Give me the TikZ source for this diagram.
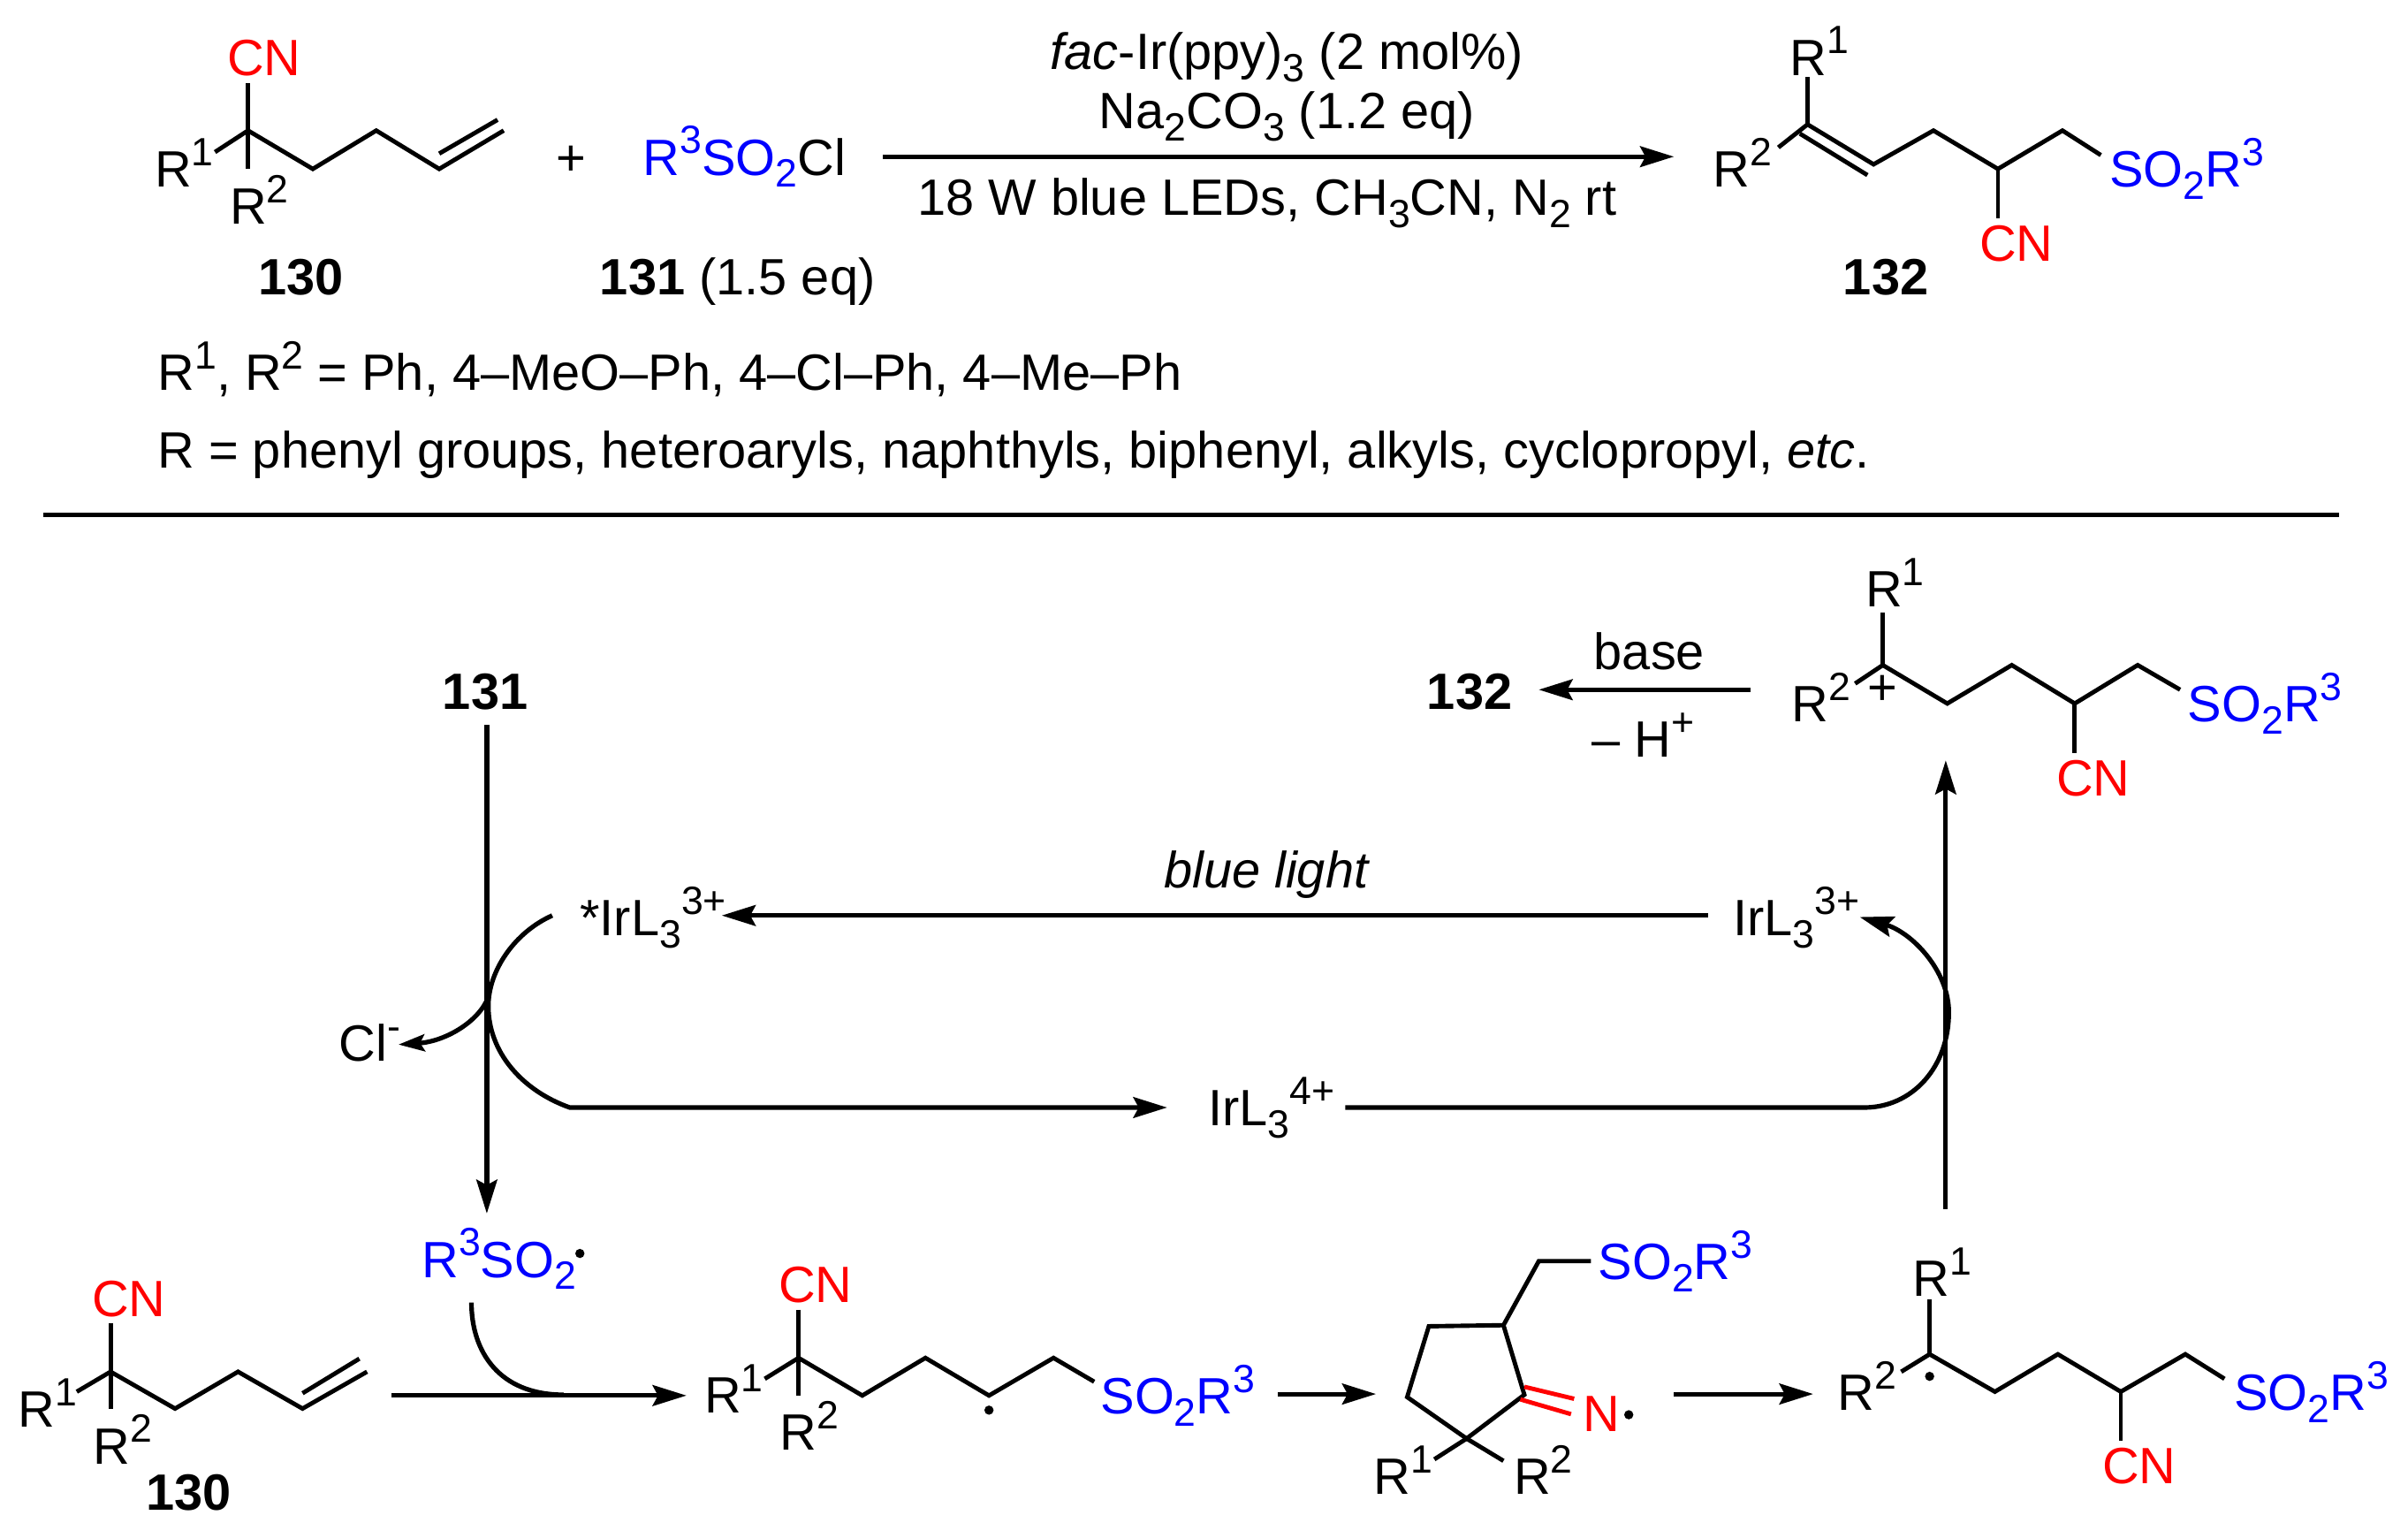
\documentclass[tikz,border=0pt]{standalone}
\usepackage{fontspec}
\setmainfont{Liberation Sans}
\usepackage{tikz}
\usetikzlibrary{arrows.meta}
\definecolor{cnred}{RGB}{255, 0, 0}
\definecolor{sulfblue}{RGB}{0, 0, 255}
\newcommand{\chemup}[1]{\raisebox{.42em}{\fontsize{7.3}{8}\selectfont #1}}
\newcommand{\chemdn}[1]{\raisebox{-.24em}{\fontsize{7.3}{8}\selectfont #1}}

\begin{document}
\begin{tikzpicture}[
    x=0.01cm, y=-0.01cm,
    label/.style={font=\fontsize{9.45}{11}\selectfont, inner sep=0pt, anchor=base west},
    mid/.style={label, anchor=base},
    cn/.style={mid, text=cnred},
    sulf/.style={label, text=sulfblue},
    bond/.style={line width=0.8pt, line join=miter},
    redbond/.style={bond, draw=cnred},
    arrow/.style={-{Stealth[length=0.22cm, width=0.135cm, inset=0.035cm]}, line width=0.85pt},
    smallarrow/.style={-{Stealth[length=0.17cm, width=0.11cm, inset=0.03cm]}, line width=0.85pt},
    curve/.style={line width=0.85pt},
    raddot/.style={circle, fill=black, inner sep=0pt, minimum size=0.06cm}
]
\useasboundingbox (0,0) rectangle (1568,1001);

% substrate and sulfonyl chloride
\coordinate (a0) at (161.5,85); \coordinate (a1) at (203.7,110); \coordinate (a2) at (245,85);
\coordinate (a3) at (286,110); \coordinate (a4) at (328,85); \coordinate (a5) at (286,100);
\coordinate (a6) at (324,78); \coordinate (a7) at (161.5,54); \coordinate (a8) at (161.5,110);
\coordinate (a9) at (140,99);
\node[cn] (acn) at (172,49) {CN};
\node[label] (ar1) at (100,122) {R\chemup{1}};
\node[label] (ar2) at (149,146) {R\chemup{2}};
\draw[bond] (a9) -- (a0) -- (a1) -- (a2) -- (a3) -- (a4);
\draw[bond] (a5) -- (a6);
\draw[bond] (a7) -- (a8);
\node[mid] (plus) at (372,114) {+};
\node[sulf] (chloride) at (418,114) {R\chemup{3}SO\chemdn{2}\textcolor{black}{Cl}};
\node[mid] (n130) at (196,192) {\textbf{130}};
\node[label] (n131) at (390,192) {\textbf{131} (1.5 eq)};

% conditions
\coordinate (rxnin) at (575,102); \coordinate (rxnout) at (1090,102);
\draw[arrow] (rxnin) -- (rxnout);
\node[mid] (cond1) at (838,45) {\textit{fac}-Ir(ppy)\chemdn{3} (2 mol\%)};
\node[mid] (cond2) at (838,84) {Na\chemdn{2}CO\chemdn{3} (1.2 eq)};
\node[mid] (cond3) at (825,140) {18 W blue LEDs, CH\chemdn{3}CN, N\chemdn{2} rt};

% product
\coordinate (b0) at (1177,81); \coordinate (b1) at (1220,107); \coordinate (b2) at (1259,85);
\coordinate (b3) at (1301,110); \coordinate (b4) at (1343,85); \coordinate (b5) at (1368,101);
\coordinate (b6) at (1177,50); \coordinate (b7) at (1158,96); \coordinate (b8) at (1172,87);
\coordinate (b9) at (1216,114); \coordinate (b10) at (1301,142);
\node[label] (br1) at (1165,49) {R\chemup{1}};
\node[label] (br2) at (1115,122) {R\chemup{2}};
\node[sulf] (bso) at (1373,122) {SO\chemdn{2}R\chemup{3}};
\node[cn] (bcn) at (1313,170) {CN};
\node[mid] (n132) at (1228,192) {\textbf{132}};
\draw[bond] (b7) -- (b0) -- (b1) -- (b2) -- (b3) -- (b4) -- (b5);
\draw[bond] (b8) -- (b9);
\draw[bond] (b0) -- (b6);
\draw[bond] (b3) -- (b10);

% scope of the reaction
\node[label] (scope1) at (102,254) {R\chemup{1}, R\chemup{2} = Ph, 4--MeO--Ph, 4--Cl--Ph, 4--Me--Ph};
\node[label] (scope2) at (102,304.5) {R = phenyl groups, heteroaryls, naphthyls, biphenyl, alkyls, cyclopropyl, \textit{etc}.};
\coordinate (rulel) at (28,335); \coordinate (ruler) at (1523,335);
\draw[line width=0.85pt] (rulel) -- (ruler);

% catalytic cycle
\node[mid] (cy131) at (316,462) {\textbf{131}};
\coordinate (down1) at (317,472); \coordinate (down2) at (317,790);
\draw[arrow] (down1) -- (down2);
\node[label] (irstar) at (377,609) {*IrL\chemdn{3}\chemup{3+}};
\node[label] (irthree) at (1128,609) {IrL\chemdn{3}\chemup{3+}};
\node[label] (irfour) at (786,733) {IrL\chemdn{3}\chemup{4+}};
\node[mid] (light) at (825,578) {\textit{blue light}};
\node[label] (chlor) at (220,691) {Cl\chemup{-}};
\coordinate (lightin) at (1112,596); \coordinate (lightout) at (470,596);
\draw[arrow] (lightin) -- (lightout);
\coordinate (ls) at (359.6,596); \coordinate (lm) at (318,655); \coordinate (le) at (371,721);
\coordinate (fourin) at (760,721);
\draw[arrow] (ls) .. controls (335,607) and (318,632) .. (lm)
    .. controls (318,685) and (340,710) .. (le) -- (fourin);
\coordinate (clm) at (318,649); \coordinate (clout) at (259.5,680);
\draw[smallarrow] (clm) .. controls (312,665) and (290,678) .. (clout);
\coordinate (fourout) at (876,721); \coordinate (rs) at (1214,721);
\coordinate (rm) at (1269,659); \coordinate (re) at (1211,597);
\draw[arrow] (fourout) -- (rs) .. controls (1245,721) and (1269,695) .. (rm)
    .. controls (1269,632) and (1245,607) .. (re);
\coordinate (up1) at (1267,787); \coordinate (up2) at (1267,495);
\draw[arrow] (up1) -- (up2);

% cation and loss of proton
\coordinate (c0) at (1226,433); \coordinate (c1) at (1268,458); \coordinate (c2) at (1310,433);
\coordinate (c3) at (1351,458); \coordinate (c4) at (1392,433); \coordinate (c5) at (1419.6,449);
\coordinate (c6) at (1226,398.5); \coordinate (c7) at (1208,445); \coordinate (c8) at (1351,490);
\node[label] (cr1) at (1214,395) {R\chemup{1}};
\node[label] (cr2) at (1166,470) {R\chemup{2}};
\node[mid] (cplus) at (1226,459) {+};
\node[sulf] (cso) at (1424,470) {SO\chemdn{2}R\chemup{3}};
\node[cn] (ccn) at (1363,518) {CN};
\draw[bond] (c7) -- (c0) -- (c1) -- (c2) -- (c3) -- (c4) -- (c5);
\draw[bond] (c0) -- (c6);
\draw[bond] (c3) -- (c8);
\node[mid] (cy132) at (957,462) {\textbf{132}};
\coordinate (basein) at (1140,449); \coordinate (baseout) at (1002,449);
\draw[arrow] (basein) -- (baseout);
\node[mid] (base) at (1074,436) {base};
\node[mid] (proton) at (1070,493) {-- H\chemup{+}};

% lower row: substrate
\coordinate (d0) at (72,893); \coordinate (d1) at (114,917); \coordinate (d2) at (155,893);
\coordinate (d3) at (197,917); \coordinate (d4) at (239,893); \coordinate (d5) at (197,907);
\coordinate (d6) at (234,884.5); \coordinate (d7) at (72,861.5); \coordinate (d8) at (72,917);
\coordinate (d9) at (50,906);
\node[cn] (dcn) at (84,857) {CN};
\node[label] (dr1) at (11,929) {R\chemup{1}};
\node[label] (dr2) at (60,953) {R\chemup{2}};
\node[mid] (low130) at (123,983) {\textbf{130}};
\draw[bond] (d9) -- (d0) -- (d1) -- (d2) -- (d3) -- (d4);
\draw[bond] (d5) -- (d6);
\draw[bond] (d7) -- (d8);

% sulfonyl radical adds
\node[sulf] (radical) at (274,831.5) {R\chemup{3}SO\chemdn{2}};
\node[raddot] (rdot1) at (377.6,816) {};
\coordinate (ra) at (307,848); \coordinate (rb) at (367,908);
\draw[curve] (ra) .. controls (307,880) and (325,908) .. (rb);
\coordinate (s1in) at (255,908.5); \coordinate (s1out) at (447,908.5);
\draw[arrow] (s1in) -- (s1out);

% adduct
\coordinate (e0) at (520,884); \coordinate (e1) at (561.5,908.5); \coordinate (e2) at (602.6,884);
\coordinate (e3) at (644,908.5); \coordinate (e4) at (686,884); \coordinate (e5) at (712.5,899.5);
\coordinate (e6) at (520,852.5); \coordinate (e7) at (520,908.5); \coordinate (e8) at (498,897.6);
\node[cn] (ecn) at (531,848) {CN};
\node[label] (er1) at (458,920) {R\chemup{1}};
\node[label] (er2) at (507,944) {R\chemup{2}};
\node[sulf] (eso) at (716,920.6) {SO\chemdn{2}R\chemup{3}};
\node[raddot] (edot) at (644,918) {};
\draw[bond] (e8) -- (e0) -- (e1) -- (e2) -- (e3) -- (e4) -- (e5);
\draw[bond] (e6) -- (e7);
\coordinate (s2in) at (832,907.5); \coordinate (s2out) at (896,907.5);
\draw[arrow] (s2in) -- (s2out);

% iminyl ring
\coordinate (f0) at (979,862.7); \coordinate (f1) at (930.4,863.4); \coordinate (f2) at (916.3,909.5);
\coordinate (f3) at (955,936.5); \coordinate (f4) at (992.6,908); \coordinate (f5) at (1002,821);
\coordinate (f6) at (1036,821); \coordinate (f7) at (934,950); \coordinate (f8) at (979,951);
\coordinate (f9) at (992.6,902.8); \coordinate (f10) at (1025,910.6);
\coordinate (f11) at (990,911); \coordinate (f12) at (1023,920.6);
\node[sulf] (fso) at (1040,833) {SO\chemdn{2}R\chemup{3}};
\node[label, text=cnred] (fn) at (1030,932) {N};
\node[raddot] (fdot) at (1060.6,921) {};
\node[label] (fr1) at (894,973) {R\chemup{1}};
\node[label] (fr2) at (985,973) {R\chemup{2}};
\draw[bond] (f0) -- (f1) -- (f2) -- (f3) -- (f4) -- cycle;
\draw[bond] (f0) -- (f5) -- (f6);
\draw[bond] (f7) -- (f3) -- (f8);
\draw[redbond] (f9) -- (f10);
\draw[redbond] (f11) -- (f12);
\coordinate (s3in) at (1090,907.5); \coordinate (s3out) at (1180.7,907.5);
\draw[arrow] (s3in) -- (s3out);

% benzylic radical
\coordinate (g0) at (1256.5,881.6); \coordinate (g1) at (1299,906); \coordinate (g2) at (1340,881.6);
\coordinate (g3) at (1381,906); \coordinate (g4) at (1423,881.6); \coordinate (g5) at (1448.5,897.6);
\coordinate (g6) at (1256.5,846); \coordinate (g7) at (1238,893); \coordinate (g8) at (1381,938);
\node[label] (gr1) at (1245,844) {R\chemup{1}};
\node[label] (gr2) at (1196,918) {R\chemup{2}};
\node[raddot] (gdot) at (1256.5,896) {};
\node[sulf] (gso) at (1454,918) {SO\chemdn{2}R\chemup{3}};
\node[cn] (gcn) at (1393,966) {CN};
\draw[bond] (g7) -- (g0) -- (g1) -- (g2) -- (g3) -- (g4) -- (g5);
\draw[bond] (g0) -- (g6);
\draw[bond] (g3) -- (g8);

\end{tikzpicture}
\end{document}
